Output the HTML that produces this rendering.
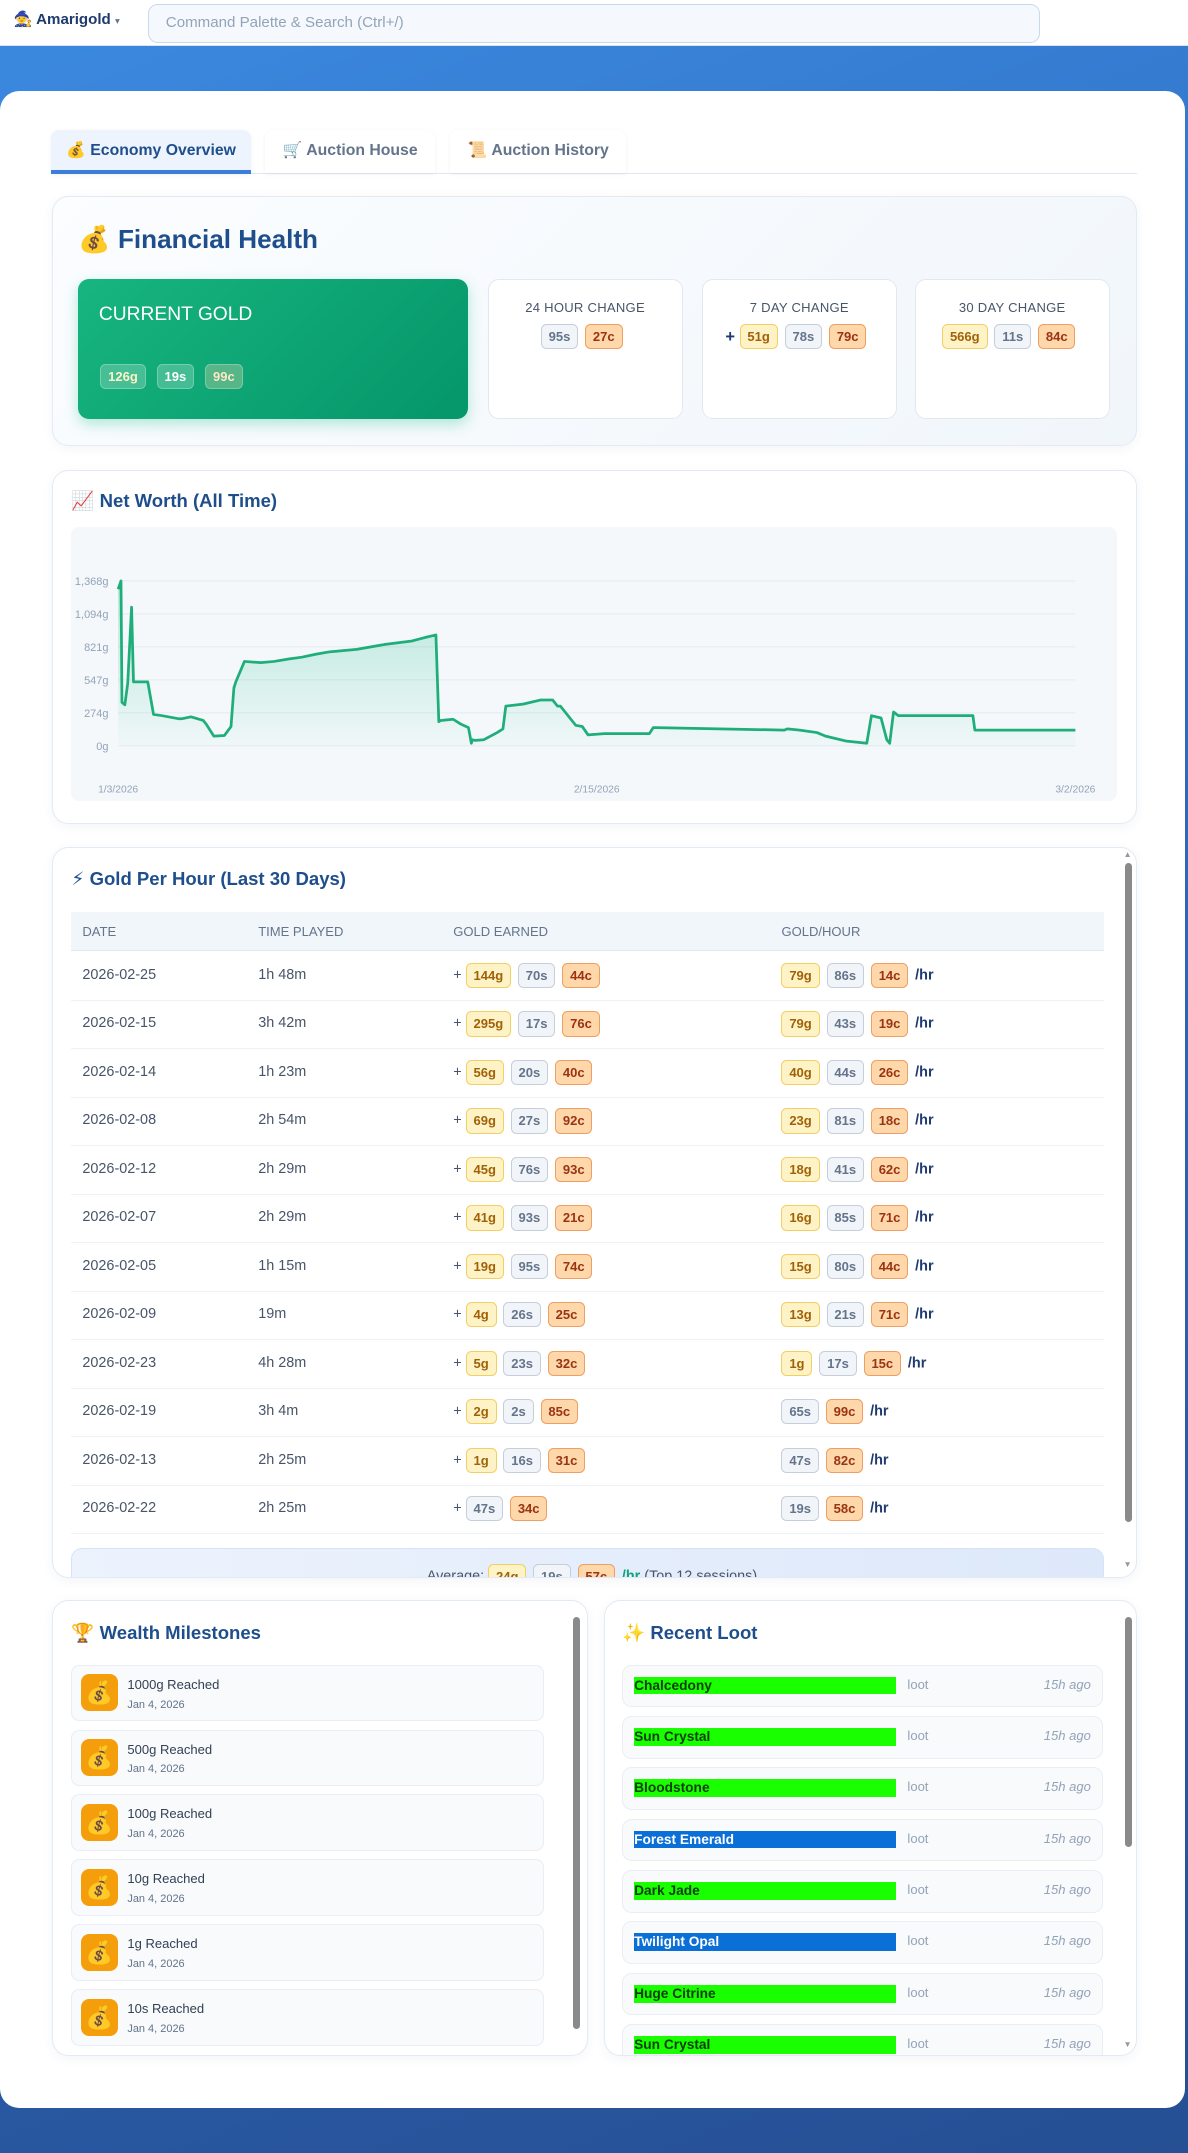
<!DOCTYPE html>
<html><head><meta charset="utf-8">
<style>
html,body{margin:0;padding:0;width:1188px;height:2153px;overflow:hidden;font-family:"Liberation Sans","DejaVu Sans",sans-serif;}
#root{position:relative;width:865px;height:1568px;zoom:1.37341;background:linear-gradient(160deg,#3b8ae0 0%,#2f6cc0 40%,#264f94 100%);overflow:hidden;}
.abs{position:absolute;}
.topbar{left:0;top:0;width:865px;height:33px;background:#fff;border-bottom:1px solid #dbe4ee;}
.brand{left:5px;top:4px;width:84px;height:22px;font-size:11px;font-weight:bold;color:#1e3a6e;line-height:22px;padding-left:5px;box-sizing:border-box;}
.search{left:108px;top:3px;width:649px;height:28px;border:1px solid #c9d9ea;border-radius:7px;background:#f5f9fd;box-sizing:border-box;font-size:11px;color:#94a3b8;line-height:26px;padding-left:12px;}
.main{left:0;top:66px;width:863px;height:1469px;background:#fff;border-radius:14px;}
.tab{top:95px;height:31px;border-radius:6px 6px 0 0;font-size:11.5px;font-weight:bold;color:#64748b;line-height:31px;text-align:center;background:#fff;box-shadow:0 1px 3px rgba(0,0,0,.05);}
.card{background:#fff;border:1px solid #e2eaf3;border-radius:12px;box-sizing:border-box;box-shadow:0 2px 8px rgba(30,60,120,.05);}
.h2{font-weight:bold;color:#1e4e8c;}
.b{display:inline-block;height:17px;line-height:17px;padding:0 5px;border-radius:4px;font-size:9.5px;font-weight:bold;margin-right:5px;vertical-align:middle;border:1px solid;}
.g{background:#fef3c7;border-color:#f3cf62;color:#a16207;}
.s{background:#f1f5f9;border-color:#c5cfdb;color:#64748b;}
.c{background:#fed7aa;border-color:#ee9f61;color:#9a3412;}
.stat{top:203px;width:142px;height:102px;background:#fff;border:1px solid #e2e8f0;border-radius:8px;box-sizing:border-box;text-align:center;}
.stat .lbl{margin-top:15px;font-size:9.5px;color:#475569;letter-spacing:.2px;}
.stat .vals{margin-top:5px;}
.row{position:absolute;left:52px;width:752px;height:35px;border-bottom:1px solid #eef2f6;font-size:10.5px;color:#475569;}
.row span.t{position:absolute;top:11px;}
.sb{background:#8a8a8a;border-radius:3px;width:5px;}
.mi{position:absolute;left:52px;width:344px;height:41px;background:#f8fafc;border:1px solid #e8eef4;border-radius:6px;box-sizing:border-box;}
.mi .ic{position:absolute;left:6px;top:6px;width:27px;height:27px;background:#f59e0b;border-radius:6px;text-align:center;line-height:27px;font-size:16px;}
.mi .n{position:absolute;left:40px;top:8px;font-size:9.5px;color:#334155;}
.mi .d{position:absolute;left:40px;top:24px;font-size:8px;color:#64748b;}
.li{position:absolute;left:453px;width:350px;height:31px;background:#f8fafc;border:1px solid #e8eef4;border-radius:7px;box-sizing:border-box;}
.li .bar{position:absolute;left:8px;top:8px;width:191px;height:13px;font-size:10px;font-weight:bold;line-height:13px;}
.li .l{position:absolute;left:207px;top:8px;font-size:9.5px;color:#94a3b8;}
.li .a{position:absolute;right:8px;top:8px;font-size:9.5px;color:#94a3b8;font-style:italic;}
</style></head><body>
<div id="root">
  <div class="abs topbar"></div>
  <div class="abs brand">🧙 Amarigold <span style="font-size:7px;color:#64748b">▾</span></div>
  <div class="abs search">Command Palette &amp; Search (Ctrl+/)</div>
  <div class="abs main"></div>

  <div class="abs" style="left:37px;top:126px;width:791px;height:1px;background:#e2e8f0"></div>
  <div class="abs tab" style="left:37px;width:146px;background:#eef4fd;color:#1e4e8c;border-bottom:3px solid #3b7dd8;height:29px;line-height:30px;">💰 Economy Overview</div>
  <div class="abs tab" style="left:193px;width:124px">🛒 Auction House</div>
  <div class="abs tab" style="left:328px;width:128px">📜 Auction History</div>

  <div class="abs card" style="left:38px;top:143px;width:790px;height:182px;background:linear-gradient(135deg,#fbfdff,#f1f6fb)"></div>
  <div class="abs h2" style="left:57px;top:163px;font-size:19px">💰 Financial Health</div>
  <div class="abs" style="left:57px;top:203px;width:284px;height:102px;border-radius:8px;background:linear-gradient(135deg,#17b57f,#059669);box-shadow:0 4px 10px rgba(16,185,129,.3)">
    <div style="position:absolute;left:15px;top:18px;font-size:14px;color:#fff">CURRENT GOLD</div>
    <div style="position:absolute;left:16px;top:61px">
      <span class="b" style="background:rgba(255,255,255,.22);border-color:rgba(255,255,255,.25);color:#fef3c7;margin-right:8px">126g</span><span class="b" style="background:rgba(255,255,255,.22);border-color:rgba(255,255,255,.25);color:#fff;margin-right:8px">19s</span><span class="b" style="background:rgba(255,220,180,.3);border-color:rgba(255,255,255,.25);color:#fde6c8">99c</span>
    </div>
  </div>
  <div class="abs stat" style="left:355px"><div class="lbl">24 HOUR CHANGE</div><div class="vals"><span class="b s">95s</span><span class="b c">27c</span></div></div>
  <div class="abs stat" style="left:511px"><div class="lbl">7 DAY CHANGE</div><div class="vals"><span style="font-size:12px;font-weight:bold;color:#1e3a6e">+ </span><span class="b g">51g</span><span class="b s">78s</span><span class="b c">79c</span></div></div>
  <div class="abs stat" style="left:666px"><div class="lbl">30 DAY CHANGE</div><div class="vals"><span class="b g">566g</span><span class="b s">11s</span><span class="b c">84c</span></div></div>

  <div class="abs card" style="left:38px;top:342px;width:790px;height:258px"></div>
  <div class="abs h2" style="left:52px;top:357px;font-size:13.5px">📈 Net Worth (All Time)</div>
  <div class="abs" style="left:52px;top:384px;width:761px;height:199px;background:#f4f8fb;border-radius:6px"></div>
  <svg class="abs" id="nw" style="left:0;top:0" width="865" height="600"></svg>

  <div class="abs card" style="left:38px;top:617px;width:790px;height:532px;overflow:hidden"></div>
  <div class="abs h2" style="left:52px;top:632px;font-size:13.5px">⚡ Gold Per Hour (Last 30 Days)</div>
  <div class="abs" style="left:52px;top:664px;width:752px;height:28px;background:#f1f6fb;border-bottom:1px solid #e2e8f0;font-size:9.5px;color:#64748b">
    <span style="position:absolute;left:8px;top:9px">DATE</span><span style="position:absolute;left:136px;top:9px">TIME PLAYED</span><span style="position:absolute;left:278px;top:9px">GOLD EARNED</span><span style="position:absolute;left:517px;top:9px">GOLD/HOUR</span>
  </div>
  <div class="abs" id="rows" style="left:0;top:0;width:865px;height:1148px;overflow:hidden;clip-path:inset(617px 0 0 0)"></div>
  <div class="abs" style="left:52px;top:1127px;width:752px;height:21px;overflow:hidden;border-radius:8px 8px 0 0;background:linear-gradient(90deg,#edf3fd,#dde8fa);border:1px solid #d6e2f5;border-bottom:none;box-sizing:border-box">
    <div style="position:absolute;left:258px;top:11px;font-size:10.5px;color:#475569;white-space:nowrap">Average: <span class="b g">24g</span><span class="b s">19s</span><span class="b c">57c</span><b style="color:#10a37f">/hr</b> (Top 12 sessions)</div>
  </div>
  <div class="abs sb" style="left:819px;top:628px;height:480px"></div>
  <div class="abs" style="left:818px;top:619px;font-size:6px;color:#999">▲</div>
  <div class="abs" style="left:818px;top:1136px;font-size:6px;color:#999">▼</div>

  <div class="abs card" style="left:38px;top:1165px;width:390px;height:332px"></div>
  <div class="abs h2" style="left:52px;top:1181px;font-size:13.5px">🏆 Wealth Milestones</div>
  <div class="abs sb" style="left:417px;top:1177px;height:300px"></div>
  <div id="ms" class="abs" style="left:0;top:0;width:865px;height:1496px;overflow:hidden"></div>

  <div class="abs card" style="left:440px;top:1165px;width:388px;height:332px"></div>
  <div class="abs h2" style="left:453px;top:1181px;font-size:13.5px">✨ Recent Loot</div>
  <div class="abs sb" style="left:819px;top:1177px;height:168px"></div>
  <div class="abs" style="left:818px;top:1485px;font-size:6px;color:#999">▼</div>
  <div id="lt" class="abs" style="left:0;top:0;width:865px;height:1496px;overflow:hidden"></div>
</div>
<script>
const nwTime = [0,3,4,7,10,14,16,31,37,46,63,67,76,89,92,100,111,118,121,123,132,149,163,178,192,207,221,249,278,307,321,332,335,337,350,358,366,369,370,373,382,396,402,405,423,441,454,459,462,478,485,491,508,555,559,562,696,699,712,730,739,760,782,787,797,803,806,810,815,832,893,895,899,1000];
const nwValue = [1300,1368,360,340,520,1150,530,530,260,250,225,225,240,210,180,80,85,160,480,530,700,690,700,720,735,760,780,800,840,870,900,920,200,210,220,180,150,20,50,45,50,110,140,330,345,380,380,330,330,170,160,90,100,100,150,150,130,140,130,110,80,40,20,250,230,50,20,280,250,250,250,130,130,130];
const yTicks = [0,274,547,821,1094,1368];
const yTickLabels = ["0g","274g","547g","821g","1,094g","1,368g"];
const xTickPos = [0,500,1000];
const xTickLabels = ["1/3/2026","2/15/2026","3/2/2026"];
const X0=86,X1=783,Y0=543,Y1=423;
const xs = t => X0 + t/1000*(X1-X0);
const ys = v => Y0 - v/1368*(Y0-Y1);
const NS="http://www.w3.org/2000/svg";
const svg=document.getElementById('nw');
function mk(tag,attrs){const e=document.createElementNS(NS,tag);for(const k in attrs)e.setAttribute(k,attrs[k]);svg.appendChild(e);return e;}
const defs=mk('defs',{});
defs.innerHTML='<linearGradient id="fg" x1="0" y1="0" x2="0" y2="1"><stop offset="0" stop-color="#10b981" stop-opacity="0.28"/><stop offset="1" stop-color="#10b981" stop-opacity="0.02"/></linearGradient>';
yTicks.forEach((v,i)=>{
  const l=mk('line',{x1:X0,x2:X1,y1:ys(v),y2:ys(v),stroke:'#e8eef4','stroke-width':1});
  
  
  const t=mk('text',{x:79,y:ys(v)+3,'text-anchor':'end','font-size':8,fill:'#94a3b8','font-family':'Liberation Sans, sans-serif'});
  t.textContent=yTickLabels[i];
  
  
});
xTickPos.forEach((p,i)=>{
  const t=mk('text',{x:xs(p),y:577,'text-anchor':'middle','font-size':7.5,fill:'#94a3b8','font-family':'Liberation Sans, sans-serif'});
  t.textContent=xTickLabels[i];
  
  
});
let d='';nwTime.forEach((t,i)=>{d+=(i?'L':'M')+xs(t).toFixed(1)+','+ys(nwValue[i]).toFixed(1);});
const area=mk('path',{d:d+'L'+xs(nwTime[nwTime.length-1])+','+Y0+'L'+xs(0)+','+Y0+'Z',fill:'url(#fg)'});


const line=mk('path',{d:d,fill:'none',stroke:'#1fae7a','stroke-width':2,'stroke-linejoin':'round'});



const dates=["2026-02-25","2026-02-15","2026-02-14","2026-02-08","2026-02-12","2026-02-07","2026-02-05","2026-02-09","2026-02-23","2026-02-19","2026-02-13","2026-02-22"];
const played=["1h 48m","3h 42m","1h 23m","2h 54m","2h 29m","2h 29m","1h 15m","19m","4h 28m","3h 4m","2h 25m","2h 25m"];
const earned=[[144,70,44],[295,17,76],[56,20,40],[69,27,92],[45,76,93],[41,93,21],[19,95,74],[4,26,25],[5,23,32],[2,2,85],[1,16,31],[0,47,34]];
const perHour=[[79,86,14],[79,43,19],[40,44,26],[23,81,18],[18,41,62],[16,85,71],[15,80,44],[13,21,71],[1,17,15],[0,65,99],[0,47,82],[0,19,58]];
function coins(a){let h='';if(a[0])h+='<span class="b g">'+a[0]+'g</span>';if(a[0]||a[1])h+='<span class="b s">'+a[1]+'s</span>';h+='<span class="b c">'+a[2]+'c</span>';return h;}
const rows=document.getElementById('rows');
dates.forEach((dt,i)=>{
  const r=document.createElement('div');
  r.className='row';r.style.top=(693+i*35.3)+'px';
  
  
  r.innerHTML='<span class="t" style="left:8px">'+dt+'</span><span class="t" style="left:136px">'+played[i]+'</span><span class="t" style="left:278px;top:8px">+ '+coins(earned[i])+'</span><span class="t" style="left:517px;top:8px">'+coins(perHour[i])+'<b style="color:#1e3a6e">/hr</b></span>';
  rows.appendChild(r);
});

const msNames=["1000g Reached","500g Reached","100g Reached","10g Reached","1g Reached","10s Reached"];
const ms=document.getElementById('ms');
msNames.forEach((n,i)=>{
  const e=document.createElement('div');
  e.className='mi';e.style.top=(1212+i*47.3)+'px';
  
  
  e.innerHTML='<div class="ic">💰</div><div class="n">'+n+'</div><div class="d">Jan 4, 2026</div>';
  ms.appendChild(e);
});

const lootNames=["Chalcedony","Sun Crystal","Bloodstone","Forest Emerald","Dark Jade","Twilight Opal","Huge Citrine","Sun Crystal"];
const lootRare=[0,0,0,1,0,1,0,0];
const lt=document.getElementById('lt');
lootNames.forEach((n,i)=>{
  const e=document.createElement('div');
  e.className='li';e.style.top=(1212+i*37.4)+'px';
  
  
  const bg=lootRare[i]?'#0a6fd6':'#1aff00',fg=lootRare[i]?'#fff':'#0b3d0b';
  e.innerHTML='<div class="bar" style="background:'+bg+';color:'+fg+'">'+n+'</div><div class="l">loot</div><div class="a">15h ago</div>';
  lt.appendChild(e);
});
</script>
</body></html>
